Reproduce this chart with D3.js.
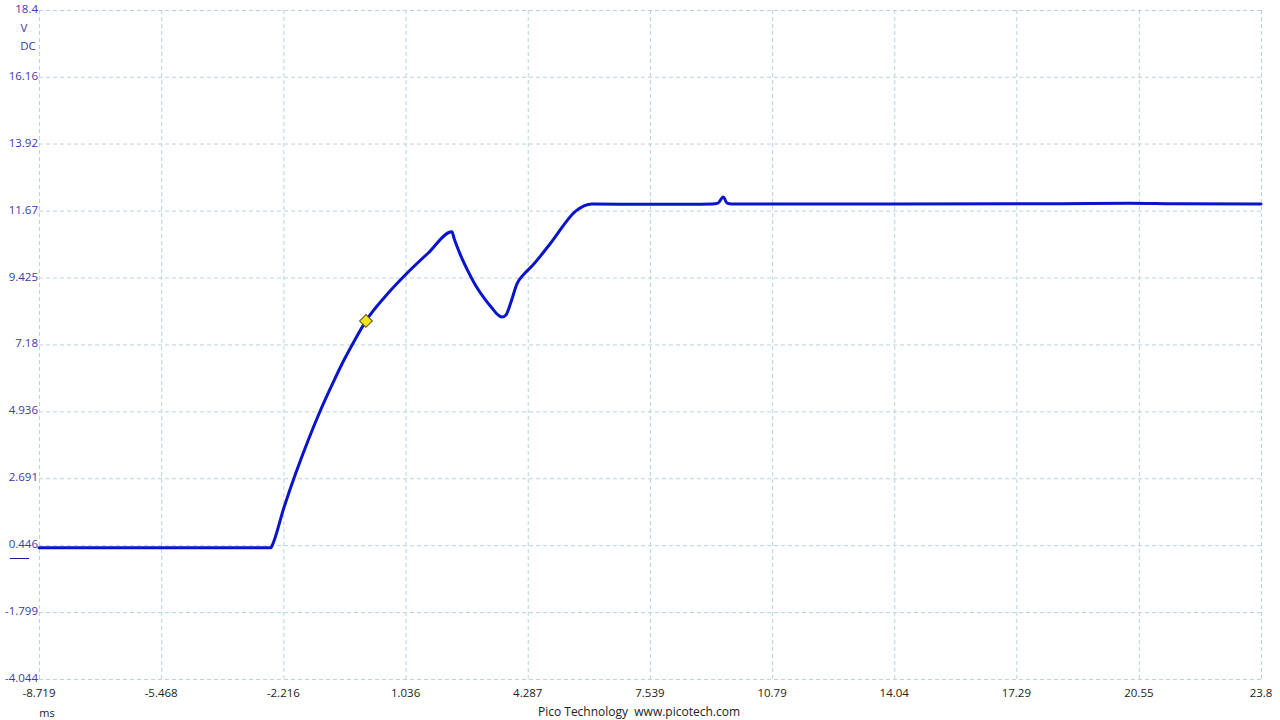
<!DOCTYPE html>
<html>
<head>
<meta charset="utf-8">
<script src="https://cdn.jsdelivr.net/npm/d3@7/dist/d3.min.js"></script>
<style>
  html, body { margin: 0; padding: 0; background: #fff; }
  svg { display: block; font-family: "Open Sans", "Noto Sans", sans-serif; }
</style>
</head>
<body>
<svg id="chart" width="1280" height="720"></svg>
<script>
// ---- data ----
const xTickLabels = ["-8.719", "-5.468", "-2.216", "1.036", "4.287", "7.539", "10.79", "14.04", "17.29", "20.55", "23.8"];
const yTickLabels = ["-4.044", "-1.799", "0.446", "2.691", "4.936", "7.18", "9.425", "11.67", "13.92", "16.16", "18.4"];
const timeMs = [-8.719, -2.546, -2.519, -2.200, -1.880, -1.561, -1.242, -0.922, -0.630, -0.310, -0.018, 0.488, 1.020, 1.632, 2.271, 2.324, 2.484, 2.697, 2.909, 3.122, 3.335, 3.495, 3.601, 3.708, 3.841, 4.000, 4.187, 4.400, 4.879, 5.571, 5.784, 5.996, 7.540, 8.60, 9.19, 9.35, 9.49, 9.59, 9.72, 14.0, 18.5, 20.31, 21.5, 23.8];
const voltsDC = [0.36, 0.36, 0.42, 1.71, 2.88, 3.95, 4.93, 5.82, 6.59, 7.34, 7.97, 8.78, 9.50, 10.24, 10.96, 10.75, 10.22, 9.64, 9.14, 8.74, 8.40, 8.17, 8.10, 8.17, 8.60, 9.21, 9.54, 9.81, 10.55, 11.66, 11.83, 11.89, 11.88, 11.88, 11.89, 11.92, 12.13, 11.92, 11.89, 11.89, 11.90, 11.92, 11.90, 11.89];
const markerT = -0.018, markerV = 7.97;

// ---- layout ----
const svg = d3.select("#chart");
const plotLeft = 39, plotRight = 1261, plotTop = 10, plotBottom = 679;
const x = d3.scaleLinear().domain([+xTickLabels[0], +xTickLabels[xTickLabels.length - 1]]).range([plotLeft, plotRight]);
const y = d3.scaleLinear().domain([+yTickLabels[0], +yTickLabels[yTickLabels.length - 1]]).range([plotBottom, plotTop]);

const gridColor = "#b9d3db";
// vertical grid
svg.append("g").selectAll("line").data(xTickLabels).join("line")
  .attr("x1", d => x(+d) + 0.5).attr("x2", d => x(+d) + 0.5)
  .attr("y1", plotTop).attr("y2", plotBottom)
  .attr("stroke", gridColor).attr("stroke-width", 1).attr("stroke-dasharray", "4,3");
// horizontal grid
svg.append("g").selectAll("line").data(yTickLabels).join("line")
  .attr("x1", plotLeft).attr("x2", plotRight)
  .attr("y1", d => y(+d) + 0.5).attr("y2", d => y(+d) + 0.5)
  .attr("stroke", gridColor).attr("stroke-width", 1).attr("stroke-dasharray", "4,3");

// y axis labels
const yColor = "#3a3aa8";
svg.append("g").selectAll("text").data(yTickLabels).join("text")
  .attr("x", plotLeft - 1).attr("y", d => y(+d) - 1)
  .attr("dy", "0.35em").attr("text-anchor", "end")
  .attr("font-size", 11.5).attr("fill", yColor).text(d => d);
svg.append("text").attr("x", 24).attr("y", 28).attr("dy", "0.35em").attr("text-anchor", "middle")
  .attr("font-size", 11.5).attr("fill", yColor).text("V");
svg.append("text").attr("x", 28).attr("y", 46).attr("dy", "0.35em").attr("text-anchor", "middle")
  .attr("font-size", 11.5).attr("fill", yColor).text("DC");
// zero-offset marker
svg.append("line").attr("x1", 10).attr("x2", 29).attr("y1", 558.5).attr("y2", 558.5)
  .attr("stroke", "#1a1a90").attr("stroke-width", 1);

// x axis labels
svg.append("g").selectAll("text").data(xTickLabels).join("text")
  .attr("x", d => x(+d)).attr("y", 693).attr("dy", "0.35em").attr("text-anchor", "middle")
  .attr("font-size", 11.5).attr("fill", "#222").text(d => d);
svg.append("text").attr("x", 47).attr("y", 713).attr("dy", "0.35em").attr("text-anchor", "middle")
  .attr("font-size", 11).attr("fill", "#222").text("ms");
svg.append("text").attr("x", 639).attr("y", 712).attr("dy", "0.35em").attr("text-anchor", "middle")
  .attr("font-size", 12).attr("fill", "#222").attr("xml:space", "preserve").text("Pico Technology  www.picotech.com");

// trace
const pts = timeMs.map((t, i) => [t, voltsDC[i]]);
svg.append("path").datum(pts)
  .attr("fill", "none").attr("stroke", "#0a14c8").attr("stroke-width", 3)
  .attr("stroke-linejoin", "round").attr("stroke-linecap", "round")
  .attr("d", d3.line().x(d => x(d[0])).y(d => y(d[1])).curve(d3.curveMonotoneX));

// marker diamond
svg.append("path")
  .attr("transform", `translate(${x(markerT)},${y(markerV)}) rotate(45)`)
  .attr("d", d3.symbol().type(d3.symbolSquare).size(81)())
  .attr("fill", "#f2e419").attr("stroke", "#5a5a20").attr("stroke-width", 1);
</script>
</body>
</html>
